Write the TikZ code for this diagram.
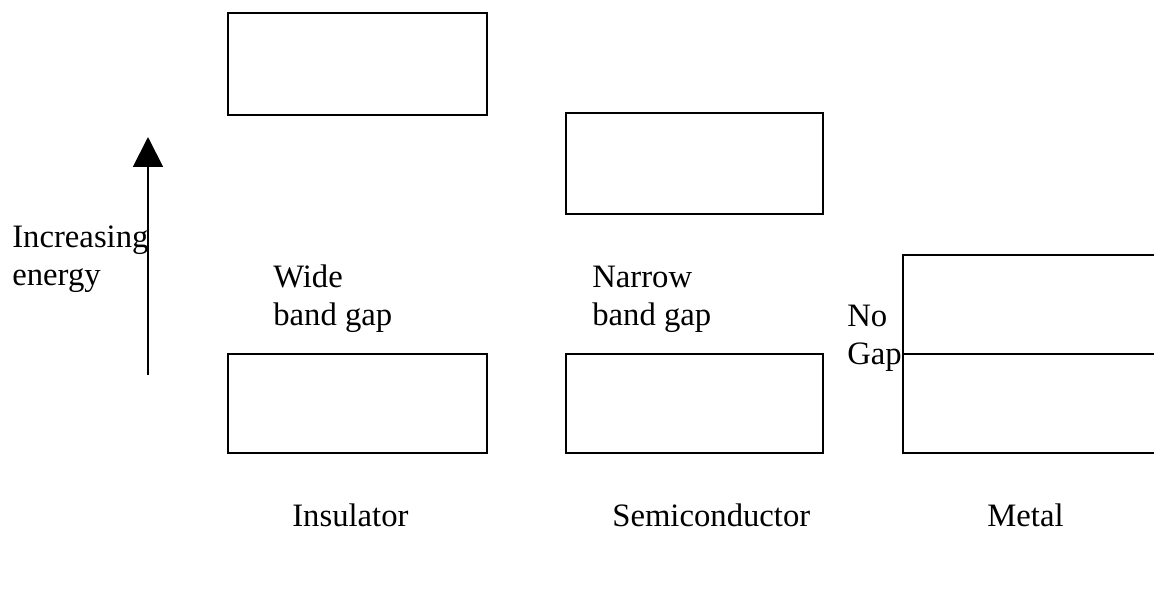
\documentclass[tikz,border=0pt]{standalone}
\usepackage{fontspec}
\setmainfont{Liberation Serif}
\usetikzlibrary{arrows.meta}
\tikzset{
    band/.style={draw, line width=1.3pt},
    bandtext/.style={inner sep=0pt, anchor=base west, align=left,
        font=\fontsize{18.6}{21.6}\selectfont},
    energyarrow/.style={line width=1.1pt, -{Triangle[length=17pt,width=17pt]}}
}
\begin{document}
\begin{tikzpicture}[x=0.2mm, y=-0.2mm]
    \useasboundingbox (0,0) rectangle (1154,605);
    % Energy axis
    \coordinate (elow) at (148,375);
    \coordinate (ehigh) at (148,137);
    \draw[energyarrow] (elow) -- (ehigh);
    \node[bandtext] (energy) at (12,285) {Increasing\\energy};
    % Insulator
    \draw[band] (228,13) rectangle (487,115);
    \draw[band] (228,354) rectangle (487,453);
    \node[bandtext] (wide) at (273,325) {Wide\\band gap};
    \node[bandtext] (insul) at (292,526) {Insulator};
    % Semiconductor
    \draw[band] (566,113) rectangle (823,214);
    \draw[band] (566,354) rectangle (823,453);
    \node[bandtext] (narrow) at (592,325) {Narrow\\band gap};
    \node[bandtext] (semi) at (612,526) {Semiconductor};
    % Metal
    \draw[band] (903,255) rectangle (1162,453);
    \draw[band] (903,354) -- (1162,354);
    \node[bandtext] (nogap) at (847,364) {No\\Gap};
    \node[bandtext] (metal) at (987,526) {Metal};
\end{tikzpicture}
\end{document}
